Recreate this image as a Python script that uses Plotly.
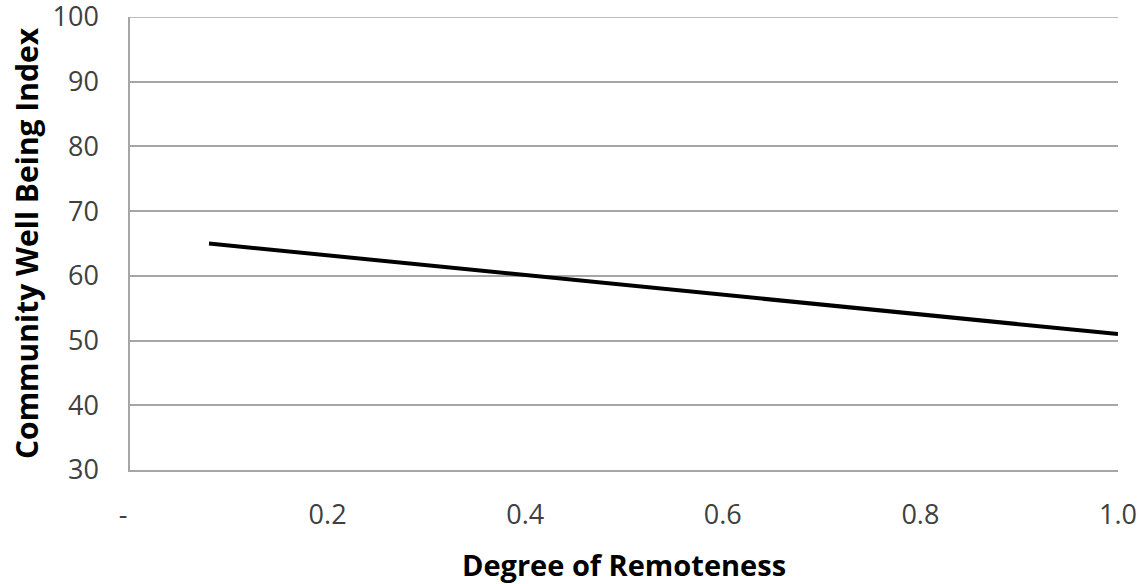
import plotly.graph_objects as go

remoteness = [0.08, 1.0]
well_being = [65, 51]

x_ticks = [0, 0.2, 0.4, 0.6, 0.8, 1.0]
x_labels = ['-  ', '0.2', '0.4', '0.6', '0.8', '1.0']
y_ticks = [30, 40, 50, 60, 70, 80, 90, 100]

fig = go.Figure(go.Scatter(
    x = remoteness,
    y = well_being,
    mode = 'lines',
    line = dict(color = 'black', width = 4),
    showlegend = False
))

# top gridline sits on the range edge, plotly skips it
fig.add_hline(y = y_ticks[-1], line = dict(color = '#a6a6a6', width = 1.5), layer = 'below')

fig.update_layout(
    width = 1140, height = 584,
    margin = dict(t=17, l=130, r=22, b=114),
    plot_bgcolor = 'white', paper_bgcolor = 'white',
    font = dict(family = 'Open Sans', size = 27, color = '#404040'),
)

fig.update_xaxes(
    range = [0, 1.0], automargin = False,
    tickvals = x_ticks, ticktext = x_labels,
    tickfont = dict(size = 27), ticklabeloverflow = 'allow',
    showgrid = False, zeroline = False,
    showline = True, linecolor = '#a6a6a6', linewidth = 1.5,
    ticks = '', ticklabelstandoff = 20,
    title = dict(text = '<b>Degree of Remoteness</b>', standoff = 25,
                 font = dict(size = 29, color = 'black'))
)

fig.update_yaxes(
    range = [30, 100], automargin = False,
    tickvals = y_ticks,
    tickfont = dict(size = 27), ticklabeloverflow = 'allow',
    showgrid = True, gridcolor = '#a6a6a6', gridwidth = 1.5,
    zeroline = False,
    showline = True, linecolor = '#a6a6a6', linewidth = 1.5,
    ticks = '', ticklabelstandoff = 24,
    title = dict(text = '<b>Community Well Being Index</b>', standoff = 5,
                 font = dict(size = 30, color = 'black'))
)

# drop the default 8px body margin so the figure fills the window
fig.write_html('out.html', config = {'displayModeBar': False},
               post_script = "document.body.style.margin = '0';")
